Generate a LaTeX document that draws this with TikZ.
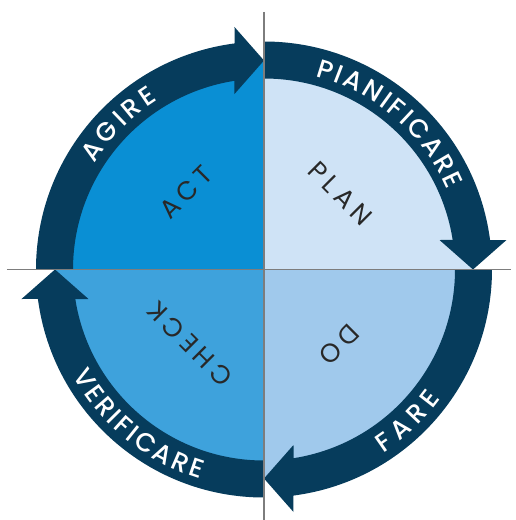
\documentclass[tikz,border=0pt]{standalone}
\usepackage{fontspec}
\setmainfont{Poppins}
\newfontfamily\pdcafont{Poppins}
\newfontfamily\ringfont{Poppins}[UprightFont=* Medium]
\usepackage{tikz}
\usetikzlibrary{decorations.text}

\definecolor{ringblue}{RGB}{6,60,92}
\definecolor{planblue}{RGB}{207,227,246}
\definecolor{doblue}{RGB}{160,201,236}
\definecolor{checkblue}{RGB}{62,162,220}
\definecolor{actblue}{RGB}{10,143,212}
\definecolor{labelgray}{RGB}{40,40,40}
\definecolor{axisgray}{RGB}{125,125,125}

\begin{document}
\begin{tikzpicture}[x=1pt, y=1pt,
  ringtext/.style={decorate, decoration={text along path, text align={fit to path},
    text={|\ringfont\fontsize{26}{26}\selectfont\color{white}|#1}}},
  pdcalabel/.style={text=labelgray, inner sep=0pt,
    font=\pdcafont\fontsize{26}{26}\selectfont\addfontfeature{LetterSpace=20}},
  axisline/.style={draw=axisgray, line width=1.3}]

\useasboundingbox (-264,-250.5) rectangle (251,269.5);

% quadrants

\fill[planblue] (0,0) -- (90:209) arc[start angle=90, end angle=0, radius=209] -- cycle;
\fill[doblue] (0,0) -- (0:209) arc[start angle=0, end angle=-90, radius=209] -- cycle;
\fill[checkblue] (0,0) -- (-90:209) arc[start angle=-90, end angle=-180, radius=209] -- cycle;
\fill[actblue] (0,0) -- (180:209) arc[start angle=180, end angle=90, radius=209] -- cycle;

% ring arrows, one per quadrant, turning clockwise
\fill[ringblue] (90:228) arc[start angle=90, end angle=7.43, radius=228] -- (242.5,29.5) -- (209,0) -- (175.5,29.5) -- (8.89:191) arc[start angle=8.89, end angle=90, radius=191] -- cycle;
\fill[ringblue, rotate=-90] (90:228) arc[start angle=90, end angle=7.43, radius=228] -- (242.5,29.5) -- (209,0) -- (175.5,29.5) -- (8.89:191) arc[start angle=8.89, end angle=90, radius=191] -- cycle;
\fill[ringblue, rotate=-180] (90:228) arc[start angle=90, end angle=7.43, radius=228] -- (242.5,29.5) -- (209,0) -- (175.5,29.5) -- (8.89:191) arc[start angle=8.89, end angle=90, radius=191] -- cycle;
\fill[ringblue, rotate=-270] (90:228) arc[start angle=90, end angle=7.43, radius=228] -- (242.5,29.5) -- (209,0) -- (175.5,29.5) -- (8.89:191) arc[start angle=8.89, end angle=90, radius=191] -- cycle;

% axes
\draw[axisline] (-257,0) -- (247,0);
\draw[axisline] (0,257.5) -- (0,-250.5);

% text on the ring
\path[ringtext=PIANIFICARE] (75:200) arc[start angle=75, end angle=23.5, radius=200];
\path[ringtext=AGIRE] (148:200) arc[start angle=148, end angle=122, radius=200];
\path[ringtext=VERIFICARE] (209:219) arc[start angle=209, end angle=253, radius=219];
\path[ringtext=FARE] (-57:219) arc[start angle=-57, end angle=-36, radius=219];

% labels inside
\node[pdcalabel, rotate=-45] (plan) at (45:108) {PLAN};
\node[pdcalabel, rotate=-135] (do) at (-45:106) {DO};
\node[pdcalabel, rotate=135] (check) at (225:105) {CHECK};
\node[pdcalabel, rotate=45] (act) at (135:110) {ACT};

\end{tikzpicture}
\end{document}
